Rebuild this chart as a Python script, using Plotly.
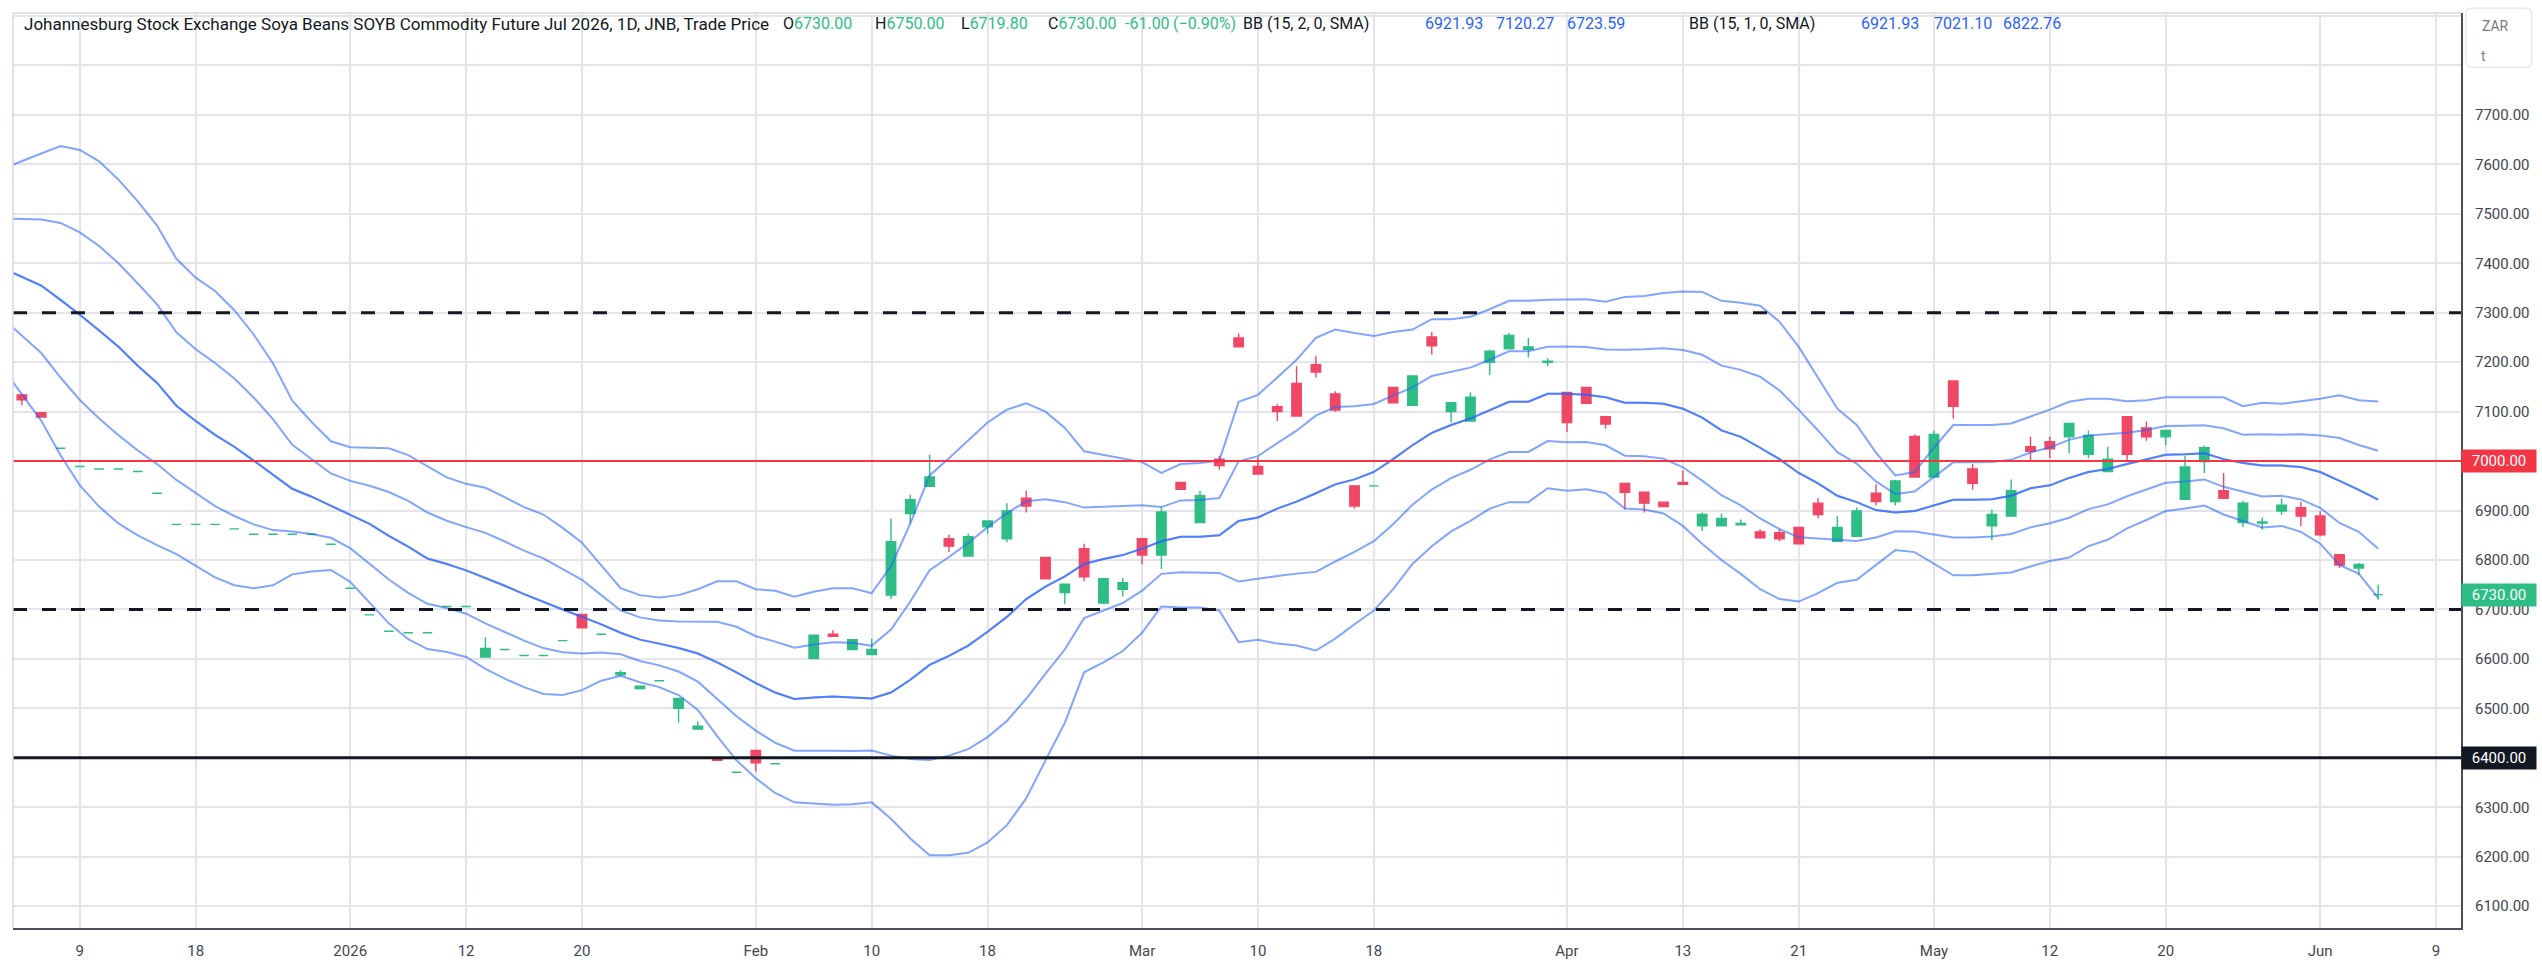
import pandas as pd
import plotly.graph_objects as go

# ---------------- layout geometry (pixels) ----------------
W, H = 2542, 972
L, R, T, B = 13, 74, 13, 35
PW, PH = W - L - R, H - T - B

def fx(px):
    return (px - L) / PW

def fy(py):
    return (T + PH - py) / PH

# ---------------- calendar (JSE trading days) ----------------
HOLIDAYS = ["2025-12-16", "2025-12-25", "2025-12-26", "2026-01-01",
            "2026-04-03", "2026-04-06", "2026-04-27", "2026-05-01"]
trading_days = [d.strftime("%Y-%m-%d") for d in pd.bdate_range("2025-12-03", "2026-06-12")
                if d.strftime("%Y-%m-%d") not in HOLIDAYS]
POS = {d: k for k, d in enumerate(trading_days)}

tick_dates = ["2025-12-09", "2025-12-18", "2026-01-02", "2026-01-12", "2026-01-20",
              "2026-02-02", "2026-02-10", "2026-02-18", "2026-03-02", "2026-03-10",
              "2026-03-18", "2026-04-01", "2026-04-13", "2026-04-21", "2026-05-04",
              "2026-05-12", "2026-05-20", "2026-06-01", "2026-06-09"]
tick_text = ["9", "18", "2026", "12", "20", "Feb", "10", "18", "Mar", "10",
             "18", "Apr", "13", "21", "May", "12", "20", "Jun", "9"]

# ---------------- daily OHLC (from 2025-12-04) ----------------
candle_first_day = "2025-12-04"
opens = [7134, 7098, 7026, 6989, 6984, 6984, 6979, 6935, 6872, 6872,
         6872, 6863, 6852, 6852, 6852, 6852, 6832, 6743, 6689, 6656,
         6653, 6653, 6706, 6706, 6604, 6619, 6607, 6607, 6637, 6690,
         6650, 6568, 6540, 6556, 6500, 6458, 6400, 6371, 6415, 6388,
         6401, 6601, 6650, 6619, 6609, 6729, 6894, 6949, 6843, 6808,
         6867, 6843, 6925, 6805, 6734, 6823, 6713, 6741, 6843, 6810,
         6957, 6876, 7004, 7249, 6989, 7110, 7157, 7195, 7136, 6950,
         6950, 7149, 7113, 7251, 7100, 7081, 7200, 7227, 7226, 7200,
         7139, 7149, 7090, 6955, 6937, 6917, 6957, 6869, 6869, 6871,
         6857, 6855, 6866, 6915, 6838, 6848, 6935, 6918, 7050, 6968,
         7162, 6984, 6869, 6889, 7029, 7039, 7049, 7014, 6979, 7090,
         7067, 7049, 6923, 6999, 6940, 6876, 6875, 6899, 6906, 6889,
         6811, 6784, 6730]
highs = [7136, 7099, 7026, 6989, 6984, 6984, 6979, 6935, 6872, 6872,
         6872, 6863, 6852, 6852, 6852, 6852, 6832, 6743, 6689, 6656,
         6653, 6653, 6706, 6706, 6644, 6619, 6607, 6607, 6637, 6691,
         6650, 6577, 6545, 6556, 6520, 6474, 6400, 6371, 6417, 6388,
         6401, 6648, 6658, 6640, 6641, 6884, 6932, 7013, 6851, 6853,
         6880, 6915, 6940, 6806, 6752, 6833, 6762, 6764, 6844, 6906,
         6958, 6940, 7011, 7258, 7008, 7115, 7192, 7212, 7141, 6951,
         6950, 7150, 7172, 7261, 7119, 7139, 7225, 7259, 7249, 7208,
         7140, 7150, 7091, 6956, 6938, 6918, 6981, 6896, 6894, 6882,
         6862, 6862, 6867, 6925, 6889, 6906, 6953, 6962, 7054, 7062,
         7163, 6994, 6902, 6963, 7049, 7049, 7078, 7062, 7029, 7091,
         7080, 7063, 7011, 7031, 6976, 6920, 6886, 6925, 6918, 6899,
         6812, 6794, 6750]
lows = [7113, 7088, 7026, 6989, 6984, 6984, 6979, 6935, 6872, 6872,
        6872, 6863, 6852, 6852, 6852, 6852, 6832, 6743, 6689, 6656,
        6653, 6653, 6706, 6706, 6604, 6619, 6607, 6607, 6637, 6663,
        6650, 6565, 6539, 6556, 6471, 6458, 6395, 6371, 6372, 6388,
        6401, 6601, 6646, 6618, 6608, 6721, 6874, 6949, 6816, 6808,
        6853, 6836, 6896, 6762, 6711, 6757, 6711, 6726, 6792, 6782,
        6942, 6876, 6983, 7230, 6974, 7081, 7091, 7169, 7100, 6904,
        6950, 7118, 7113, 7215, 7078, 7081, 7174, 7227, 7210, 7192,
        7059, 7117, 7066, 6902, 6896, 6907, 6953, 6859, 6869, 6871,
        6843, 6838, 6833, 6884, 6838, 6848, 6910, 6910, 6968, 6968,
        7086, 6942, 6840, 6889, 7001, 7006, 7016, 7006, 6978, 7001,
        7041, 7032, 6923, 6976, 6925, 6867, 6861, 6891, 6869, 6848,
        6784, 6770, 6719.8]
closes = [7124, 7089, 7026, 6989, 6984, 6984, 6979, 6935, 6872, 6872,
          6872, 6863, 6852, 6852, 6852, 6852, 6832, 6743, 6689, 6656,
          6653, 6653, 6706, 6706, 6621, 6619, 6607, 6607, 6637, 6663,
          6650, 6572, 6545, 6556, 6520, 6464, 6395, 6371, 6390, 6388,
          6401, 6648, 6646, 6639, 6619, 6837, 6922, 6968, 6828, 6847,
          6879, 6899, 6909, 6762, 6751, 6766, 6762, 6754, 6810, 6897,
          6943, 6930, 6991, 7231, 6974, 7100, 7091, 7180, 7103, 6909,
          6950, 7118, 7172, 7233, 7118, 7129, 7222, 7254, 7231, 7202,
          7078, 7117, 7075, 6937, 6915, 6908, 6953, 6892, 6884, 6874,
          6845, 6843, 6833, 6892, 6866, 6899, 6918, 6960, 6968, 7054,
          7111, 6955, 6892, 6940, 7020, 7025, 7076, 7052, 7004, 7014,
          7049, 7062, 6988, 7027, 6925, 6915, 6877, 6911, 6889, 6851,
          6790, 6791, 6730]

# ---------------- Bollinger band readings (from 2025-12-03) ----------------
band_first_day = "2025-12-03"
bb_mid = [7390, 7372, 7355, 7326, 7296, 7264, 7231, 7193, 7158, 7112,
          7081, 7053, 7029, 7001, 6972, 6944, 6928, 6910, 6892, 6873,
          6849, 6827, 6803, 6792, 6779, 6764, 6748, 6731, 6715, 6700,
          6685, 6670, 6653, 6639, 6631, 6622, 6611, 6593, 6573, 6551,
          6532, 6519, 6522, 6524, 6522, 6520, 6532, 6558, 6588, 6606,
          6627, 6655, 6685, 6721, 6746, 6767, 6792, 6802, 6810, 6823,
          6838, 6847, 6847, 6850, 6879, 6886, 6904, 6918, 6935, 6953,
          6963, 6978, 7004, 7032, 7057, 7073, 7086, 7103, 7120, 7120,
          7136, 7136, 7134, 7129, 7118, 7118, 7116, 7106, 7088, 7062,
          7049, 7027, 7004, 6976, 6955, 6930, 6917, 6901, 6896, 6899,
          6910, 6922, 6922, 6923, 6930, 6945, 6951, 6966, 6978, 6984,
          6994, 7003, 7013, 7014, 7016, 7004, 6996, 6991, 6991, 6988,
          6978, 6960, 6942, 6921.93]
bb_upper2 = [7591, 7607, 7622, 7637, 7629, 7606, 7569, 7525, 7476, 7409,
             7371, 7344, 7305, 7256, 7198, 7122, 7079, 7040, 7028, 7027,
             7026, 7012, 6989, 6967, 6954, 6946, 6927, 6907, 6892, 6865,
             6835, 6788, 6743, 6729, 6724, 6729, 6741, 6757, 6757, 6741,
             6738, 6726, 6736, 6743, 6743, 6733, 6787, 6874, 6971, 7006,
             7042, 7078, 7104, 7117, 7100, 7067, 7020, 7013, 7006, 6998,
             6976, 6994, 6996, 7001, 7120, 7134, 7169, 7205, 7249, 7266,
             7259, 7253, 7261, 7266, 7287, 7287, 7292, 7307, 7324, 7324,
             7326, 7327, 7327, 7322, 7332, 7334, 7340, 7343, 7342, 7324,
             7320, 7314, 7282, 7231, 7169, 7106, 7073, 7017, 6971, 6978,
             7027, 7073, 7073, 7073, 7076, 7090, 7104, 7120, 7126, 7126,
             7121, 7123, 7129, 7129, 7129, 7129, 7111, 7118, 7116, 7121,
             7126, 7133, 7123, 7120.27]
bb_lower2 = [7188, 7135, 7082, 7012, 6951, 6908, 6874, 6850, 6830, 6812,
             6789, 6765, 6749, 6743, 6749, 6771, 6777, 6780, 6756, 6713,
             6672, 6640, 6620, 6614, 6604, 6580, 6560, 6543, 6529, 6527,
             6537, 6556, 6566, 6553, 6543, 6527, 6497, 6444, 6395, 6359,
             6329, 6310, 6308, 6305, 6306, 6310, 6277, 6237, 6203, 6203,
             6208, 6229, 6264, 6318, 6395, 6471, 6573, 6593, 6616, 6653,
             6706, 6704, 6704, 6698, 6634, 6639, 6631, 6627, 6617, 6641,
             6670, 6698, 6741, 6792, 6828, 6858, 6879, 6904, 6917, 6917,
             6945, 6940, 6943, 6935, 6904, 6902, 6894, 6869, 6833, 6800,
             6772, 6741, 6721, 6716, 6733, 6754, 6760, 6790, 6820, 6816,
             6792, 6769, 6769, 6772, 6775, 6787, 6798, 6805, 6828, 6841,
             6864, 6881, 6899, 6904, 6910, 6892, 6879, 6866, 6869, 6857,
             6833, 6790, 6772, 6723.59]
# BB(15,1) = half the distance of BB(15,2) from the basis
bb_upper1 = [(m + u) / 2 for m, u in zip(bb_mid, bb_upper2)]
bb_lower1 = [(m + lo) / 2 for m, lo in zip(bb_mid, bb_lower2)]

# ---------------- horizontal levels ----------------
dashed_levels = [7300, 6700]
red_level = 7000
black_level = 6400
last_price = 6730

price_ticks = list(range(6100, 8000, 100))
price_tick_text = [f"{v:.2f}" if v <= 7700 else "" for v in price_ticks]

UP = "#2ebd85"
DOWN = "#ef4866"
BLUE = "rgba(41,98,255,0.58)"
FONT = "Roboto"
TEXT = "#131722"
AXIS_TXT = "#434651"

X0 = POS[band_first_day] + 0.54
X1 = POS[band_first_day] + 127.29

fig = go.Figure()

# Bollinger bands
bx = [POS[band_first_day] + k for k in range(len(bb_mid))]
for series in (bb_upper2, bb_lower2, bb_mid, bb_upper1, bb_lower1, bb_mid):
    fig.add_trace(go.Scatter(x=bx, y=series, mode="lines",
                             line=dict(color=BLUE, width=2), hoverinfo="skip",
                             showlegend=False))

# candles, split by colour (close >= open -> green, as the source platform does)
cx = [POS[candle_first_day] + k for k in range(len(opens))]
for is_up, col in ((True, UP), (False, DOWN)):
    idx = [k for k in range(len(opens)) if (closes[k] >= opens[k]) == is_up]
    fig.add_trace(go.Candlestick(
        x=[cx[k] for k in idx], open=[opens[k] for k in idx], high=[highs[k] for k in idx],
        low=[lows[k] for k in idx], close=[closes[k] for k in idx],
        increasing=dict(line=dict(color=col, width=1.4), fillcolor=col),
        decreasing=dict(line=dict(color=col, width=1.4), fillcolor=col),
        whiskerwidth=0, showlegend=False, hoverinfo="skip"))

shapes = []
for lv in dashed_levels:
    shapes.append(dict(type="line", xref="x", x0=X0, x1=X1, yref="y", y0=lv, y1=lv,
                       line=dict(color="#131722", width=3, dash="14px,15px"), layer="above"))
shapes.append(dict(type="line", xref="x", x0=X0, x1=X1, yref="y", y0=red_level, y1=red_level,
                   line=dict(color="#f23645", width=2), layer="above"))
shapes.append(dict(type="line", xref="x", x0=X0, x1=X1, yref="y", y0=black_level, y1=black_level,
                   line=dict(color="#131722", width=3), layer="above"))
# pane border (left / top)
shapes.append(dict(type="line", xref="paper", yref="paper", x0=0, x1=0, y0=0, y1=1,
                   line=dict(color="#d6d9e0", width=1.5)))
shapes.append(dict(type="line", xref="paper", yref="paper", x0=0, x1=1, y0=1, y1=1,
                   line=dict(color="#d6d9e0", width=1.5)))

# rounded "ZAR / t" box
bx0, bx1, by0, by1, r = 2473, 2539, 8, 68, 6
pts = [("M", bx0 + r, by0), ("L", bx1 - r, by0), ("Q", bx1, by0, bx1, by0 + r),
       ("L", bx1, by1 - r), ("Q", bx1, by1, bx1 - r, by1), ("L", bx0 + r, by1),
       ("Q", bx0, by1, bx0, by1 - r), ("L", bx0, by0 + r), ("Q", bx0, by0, bx0 + r, by0)]
path = ""
for p in pts:
    if p[0] == "Q":
        path += f"Q{fx(p[1]):.6f},{fy(p[2]):.6f} {fx(p[3]):.6f},{fy(p[4]):.6f} "
    else:
        path += f"{p[0]}{fx(p[1]):.6f},{fy(p[2]):.6f} "
path += "Z"
shapes.append(dict(type="path", xref="paper", yref="paper", path=path,
                   line=dict(color="#e0e3eb", width=1.2), fillcolor="white"))

annotations = []

def txt(px, py, s, color=TEXT, size=17, anchor="left"):
    annotations.append(dict(x=fx(px), y=fy(py), xref="paper", yref="paper", text=s,
                            showarrow=False, xanchor=anchor, yanchor="middle",
                            font=dict(family=FONT, size=size, color=color)))

HEAD_Y = 24
NUM = 16
txt(22, HEAD_Y, "Johannesburg Stock Exchange Soya Beans SOYB Commodity Future Jul 2026, 1D, JNB, Trade Price")
ohlc = [(783, "O", "6730.00"), (875, "H", "6750.00"), (962, "L", "6719.80"), (1049, "C", "6730.00")]
for px, lab, val in ohlc:
    txt(px, HEAD_Y, f"{lab}<span style='color:{UP}'>{val}</span>", size=NUM)
txt(1126, HEAD_Y, "-61.00", color=UP, size=NUM)
txt(1174, HEAD_Y, "(\u22120.90%)", color=UP, size=NUM)
BBVAL = "#2962ff"
txt(1245, HEAD_Y, "BB (15, 2, 0, SMA)", size=NUM)
for px, v in ((1427, "6921.93"), (1498, "7120.27"), (1569, "6723.59")):
    txt(px, HEAD_Y, v, color=BBVAL, size=NUM)
txt(1692, HEAD_Y, "BB (15, 1, 0, SMA)", size=NUM)
for px, v in ((1864, "6921.93"), (1937, "7021.10"), (2007, "6822.76")):
    txt(px, HEAD_Y, v, color=BBVAL, size=NUM)

txt(2487, 26, "ZAR", color="#787b86", size=14)
txt(2486, 56, "t", color="#787b86", size=14)

# price labels on the axis
for lv, bg in ((red_level, "#f23645"), (last_price, UP), (black_level, "#131722")):
    annotations.append(dict(x=1, xref="paper", y=lv, yref="y", text=f"{lv:.2f}",
                            showarrow=False, xanchor="left", yanchor="middle",
                            bgcolor=bg, width=70, height=18, borderpad=2, align="center",
                            font=dict(family=FONT, size=15, color="white")))

fig.update_layout(
    width=W, height=H,
    margin=dict(l=L, r=R, t=T, b=B, pad=0),
    paper_bgcolor="white", plot_bgcolor="white",
    showlegend=False, hovermode=False,
    shapes=shapes, annotations=annotations,
    xaxis=dict(range=[X0, X1],
               tickmode="array", tickvals=[POS[d] for d in tick_dates], ticktext=tick_text,
               showgrid=True, gridcolor="#e3e5ea", gridwidth=1.5, zeroline=False,
               showline=True, linecolor="#4a4d57", linewidth=2, ticks="",
               ticklabelstandoff=8,
               tickfont=dict(family=FONT, size=15, color=AXIS_TXT),
               rangeslider=dict(visible=False), fixedrange=True),
    yaxis=dict(side="right", range=[6056, 7906], tickmode="array",
               tickvals=price_ticks, ticktext=price_tick_text,
               showgrid=True, gridcolor="#e3e5ea", gridwidth=1.5, zeroline=False,
               showline=True, linecolor="#4a4d57", linewidth=2, ticks="",
               ticklabelstandoff=9,
               tickfont=dict(family=FONT, size=15, color=AXIS_TXT), fixedrange=True),
)

fig.write_html("out.html")
